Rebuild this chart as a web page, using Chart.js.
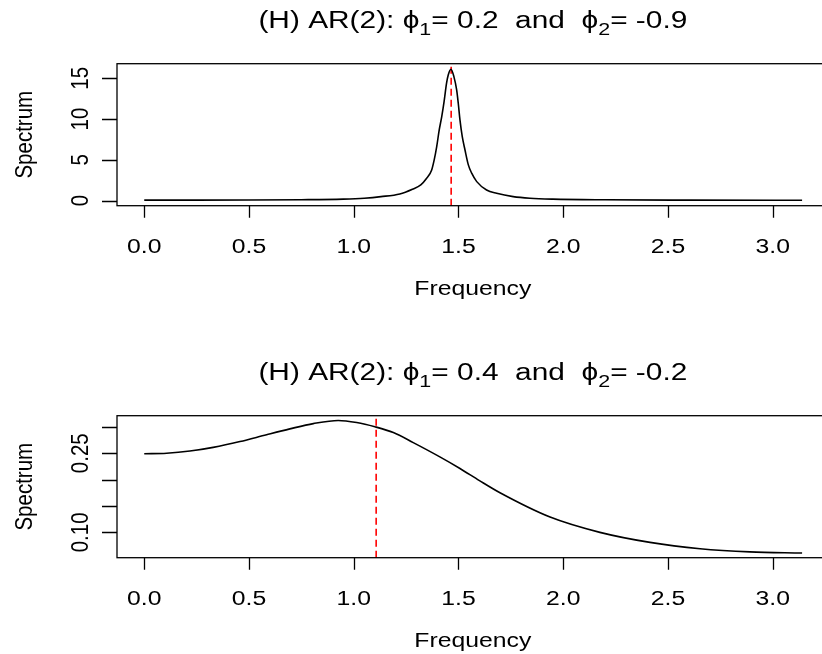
<!DOCTYPE html>
<html>
<head>
<meta charset="utf-8">
<script src="https://cdn.jsdelivr.net/npm/chart.js@4.4.0/dist/chart.umd.min.js"></script>
<style>
  html, body { margin: 0; padding: 0; background: #fff; overflow: hidden; }
  #wrap { position: relative; width: 822px; height: 654px; overflow: hidden; }
  canvas { position: absolute; left: 0; }
  #top { top: 0; }
  #bottom { top: 352px; }
</style>
</head>
<body>
<div id="wrap">
  <canvas id="top" width="840" height="352"></canvas>
  <canvas id="bottom" width="840" height="302"></canvas>
</div>
<script>
const freqTicks = [0, 0.5, 1, 1.5, 2, 2.5, 3];
const freqTickLabels = ['0.0', '0.5', '1.0', '1.5', '2.0', '2.5', '3.0'];

// phi1 = 0.2, phi2 = -0.9
const topPhi = ['0.2', '-0.9'];
const topPeak = 1.465;
const topTicks = [0, 5, 10, 15];
const topTickLabels = ['0', '5', '10', '15'];
const topFreq = [0.00, 0.25, 0.50, 0.75, 0.95, 1.05, 1.13, 1.22, 1.28, 1.32, 1.348, 1.372, 1.384, 1.396, 1.408,
  1.420, 1.431, 1.443, 1.451, 1.464, 1.478, 1.491, 1.499, 1.507, 1.518, 1.531, 1.547, 1.563, 1.587, 1.634,
  1.682, 1.761, 1.841, 1.95, 2.20, 2.60, 3.14];
const topSpec = [0.06, 0.06, 0.07, 0.11, 0.19, 0.30, 0.49, 0.82, 1.40, 1.93, 2.74, 3.76, 4.99, 6.62, 8.66,
  10.3, 12.1, 14.4, 15.4, 16.1, 15.2, 13.6, 11.9, 9.9, 7.84, 6.21, 4.38, 3.36, 2.33, 1.31,
  0.90, 0.49, 0.29, 0.18, 0.10, 0.06, 0.04];

// phi1 = 0.4, phi2 = -0.2
const bottomPhi = ['0.4', '-0.2'];
const bottomPeak = 1.107;
const bottomTicks = [0.10, 0.15, 0.20, 0.25, 0.30];
const bottomTickLabels = ['0.10', '', '', '0.25', ''];
const bottomFreq = [0.000, 0.107, 0.218, 0.329, 0.457, 0.584, 0.695, 0.807, 0.926, 1.014, 1.101, 1.189,
  1.284, 1.411, 1.507, 1.600, 1.698, 1.937, 2.175, 2.414, 2.653, 2.891, 3.14];
const bottomSpec = [0.249, 0.250, 0.254, 0.261, 0.272, 0.285, 0.296, 0.306, 0.312, 0.308, 0.300, 0.289,
  0.270, 0.243, 0.221, 0.198, 0.175, 0.129, 0.100, 0.081, 0.069, 0.063, 0.061];

const FONT = '"Liberation Sans", Arial, Helvetica, sans-serif';
const SX = 1.27;        // horizontal text is drawn a bit wide
const SX_UP = 1.2;      // same for the rotated axis text
const LAB = 19.5;       // axis text size
const LAB_UP = 20.5;    // rotated axis text size
const MAIN = 23.5;      // title size

function wideText(ctx, str, x, y, size, align) {
  ctx.save();
  ctx.font = size + 'px ' + FONT;
  ctx.textAlign = align || 'center';
  ctx.textBaseline = 'alphabetic';
  ctx.translate(x, y);
  ctx.scale(SX, 1);
  ctx.fillText(str, 0, 0);
  ctx.restore();
}

function upText(ctx, str, x, y, size) {
  ctx.save();
  ctx.font = size + 'px ' + FONT;
  ctx.textAlign = 'center';
  ctx.textBaseline = 'alphabetic';
  ctx.translate(x, y);
  ctx.scale(SX_UP, 1);
  ctx.rotate(-Math.PI / 2);
  ctx.fillText(str, 0, 0);
  ctx.restore();
}

function drawTitle(ctx, phi, cx, base) {
  const parts = [
    ['(H) AR(2): ', 0], ['\u03d5', 0], ['1', 1], ['= ' + phi[0] + '  and  ', 0],
    ['\u03d5', 0], ['2', 1], ['= ' + phi[1], 0]
  ];
  const sub = MAIN * 0.72;
  let total = 0;
  parts.forEach(p => {
    ctx.font = (p[1] ? sub : MAIN) + 'px ' + FONT;
    p.w = ctx.measureText(p[0]).width * SX;
    total += p.w;
  });
  let x = cx - total / 2;
  parts.forEach(p => {
    wideText(ctx, p[0], x, base + (p[1] ? MAIN * 0.28 : 0), p[1] ? sub : MAIN, 'left');
    x += p.w;
  });
}

const rAxes = {
  id: 'rAxes',
  afterDraw(chart, args, o) {
    const { ctx, chartArea: a } = chart;
    const xs = chart.scales.x, ys = chart.scales.y;
    ctx.save();
    ctx.strokeStyle = '#000';
    ctx.fillStyle = '#000';
    ctx.lineWidth = 1.3;
    ctx.strokeRect(a.left, a.top, a.right - a.left, a.bottom - a.top);

    ctx.beginPath();
    freqTicks.forEach(v => {
      const px = Math.round(xs.getPixelForValue(v)) + 0.5;
      ctx.moveTo(px, a.bottom);
      ctx.lineTo(px, a.bottom + 12);
    });
    o.ticks.forEach(v => {
      const py = Math.round(ys.getPixelForValue(v)) + 0.5;
      ctx.moveTo(a.left, py);
      ctx.lineTo(a.left - 15, py);
    });
    ctx.stroke();

    freqTickLabels.forEach((s, i) => wideText(ctx, s, xs.getPixelForValue(freqTicks[i]), 253, LAB));
    wideText(ctx, 'Frequency', (a.left + a.right) / 2, 294.5, LAB);
    o.labels.forEach((s, i) => { if (s) upText(ctx, s, 88, ys.getPixelForValue(o.ticks[i]), LAB_UP); });
    upText(ctx, 'Spectrum', 32, (a.top + a.bottom) / 2, LAB_UP);
    drawTitle(ctx, o.phi, (a.left + a.right) / 2, 28.4);
    ctx.restore();
  }
};

function makePanel(id, freq, spec, peak, yMin, yMax, ticks, labels, phi) {
  const canvas = document.getElementById(id);
  return new Chart(canvas, {
    type: 'line',
    data: {
      datasets: [
        {
          data: freq.map((f, i) => ({ x: f, y: spec[i] })),
          borderColor: '#000',
          borderWidth: 1.6,
          pointRadius: 0,
          cubicInterpolationMode: 'monotone',
          fill: false
        },
        {
          data: [{ x: peak, y: yMin }, { x: peak, y: yMax }],
          borderColor: '#ff0000',
          borderWidth: 1.6,
          borderDash: [7, 4],
          pointRadius: 0,
          fill: false
        }
      ]
    },
    options: {
      responsive: false,
      animation: false,
      devicePixelRatio: 1,
      events: [],
      layout: {
        padding: { left: 117, top: 63.7, right: canvas.width - 828.7, bottom: canvas.height - 205.7 }
      },
      plugins: {
        legend: { display: false },
        tooltip: { enabled: false },
        rAxes: { ticks: ticks, labels: labels, phi: phi }
      },
      scales: {
        x: { type: 'linear', display: false, min: -0.13, max: 3.267 },
        y: { type: 'linear', display: false, min: yMin, max: yMax }
      }
    },
    plugins: [rAxes]
  });
}

makePanel('top', topFreq, topSpec, topPeak, -0.62, 16.78, topTicks, topTickLabels, topPhi);
makePanel('bottom', bottomFreq, bottomSpec, bottomPeak, 0.052, 0.321, bottomTicks, bottomTickLabels, bottomPhi);
</script>
</body>
</html>
